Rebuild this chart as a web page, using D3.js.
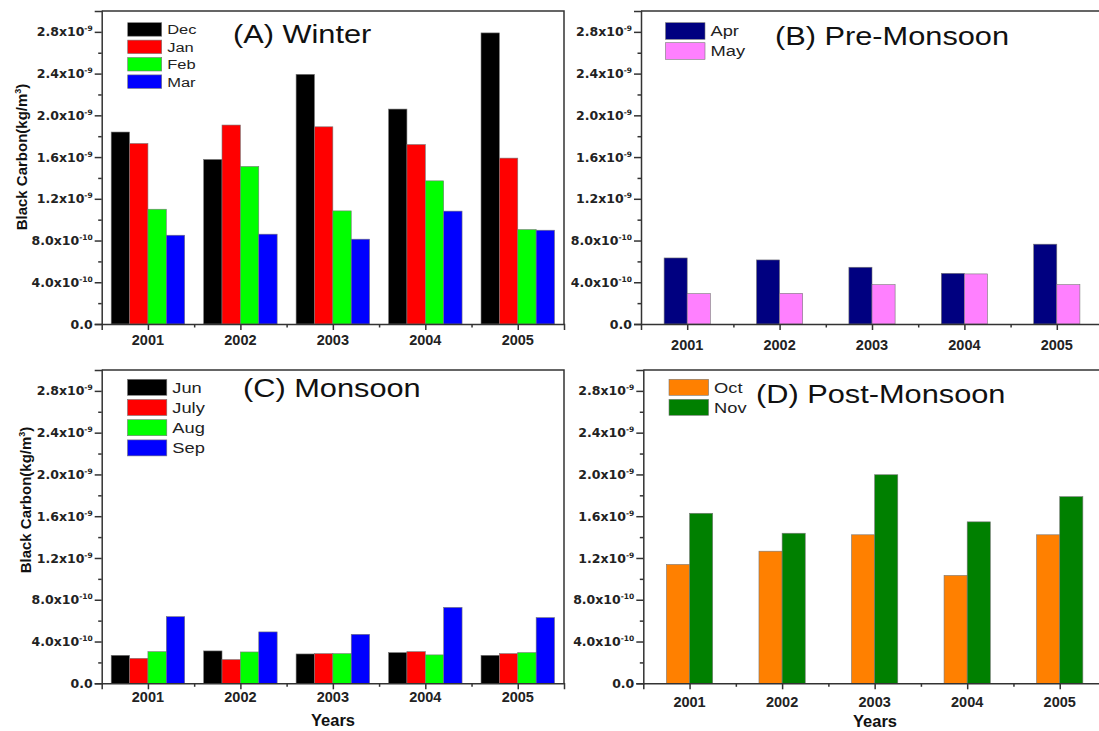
<!DOCTYPE html>
<html>
<head>
<meta charset="utf-8">
<script src="https://cdn.jsdelivr.net/npm/d3@7"></script>
<style>
  body { margin: 0; background: #fff; }
  svg { display: block; }
</style>
</head>
<body>
<svg id="chart" width="1099" height="731"></svg>
<script>
'use strict';

// Data (kg/m^3)
const years = [2001, 2002, 2003, 2004, 2005];
const yTicks = [0, 0.4e-9, 0.8e-9, 1.2e-9, 1.6e-9, 2.0e-9, 2.4e-9, 2.8e-9];
const yMinorTicks = [0.2e-9, 0.6e-9, 1.0e-9, 1.4e-9, 1.8e-9, 2.2e-9, 2.6e-9];

// (A) Winter
const winterMonths = ['Dec', 'Jan', 'Feb', 'Mar'];
const decVals = [1.84e-9, 1.577e-9, 2.393e-9, 2.06e-9, 2.79e-9];
const janVals = [1.73e-9, 1.907e-9, 1.89e-9, 1.72e-9, 1.59e-9];
const febVals = [1.10e-9, 1.51e-9, 1.084e-9, 1.372e-9, 0.905e-9];
const marVals = [0.851e-9, 0.861e-9, 0.813e-9, 1.082e-9, 0.899e-9];

// (B) Pre-Monsoon
const preMonths = ['Apr', 'May'];
const aprVals = [0.633e-9, 0.614e-9, 0.544e-9, 0.486e-9, 0.765e-9];
const mayVals = [0.291e-9, 0.294e-9, 0.377e-9, 0.48e-9, 0.377e-9];

// (C) Monsoon
const monsoonMonths = ['Jun', 'July', 'Aug', 'Sep'];
const junVals = [0.268e-9, 0.31e-9, 0.281e-9, 0.294e-9, 0.268e-9];
const julVals = [0.239e-9, 0.227e-9, 0.284e-9, 0.303e-9, 0.284e-9];
const augVals = [0.303e-9, 0.30e-9, 0.284e-9, 0.272e-9, 0.294e-9];
const sepVals = [0.638e-9, 0.492e-9, 0.469e-9, 0.727e-9, 0.629e-9];

// (D) Post-Monsoon
const postMonths = ['Oct', 'Nov'];
const octVals = [1.138e-9, 1.265e-9, 1.422e-9, 1.033e-9, 1.422e-9];
const novVals = [1.628e-9, 1.437e-9, 1.997e-9, 1.546e-9, 1.787e-9];

const panels = [
  { title: '(A) Winter', titlePos: [233, 43], months: winterMonths,
    series: [decVals, janVals, febVals, marVals],
    colors: ['#000000', '#ff0000', '#00ff00', '#0000ff'],
    left: 101.7, right: 564, top: 11, bottom: 324, groupFrac: 0.795,
    xLabelGap: 21, yTitle: [27, 157], xTitle: null,
    legend: { x: 127.7, y: 22.7, w: 34, h: 13.5, step: 17.4, font: 13.5 } },
  { title: '(B) Pre-Monsoon', titlePos: [775, 45], months: preMonths,
    series: [aprVals, mayVals],
    colors: ['#000080', '#ff80ff'],
    left: 641, right: 1103, top: 11, bottom: 324, groupFrac: 0.5,
    xLabelGap: 26, yTitle: null, xTitle: null,
    legend: { x: 665.5, y: 22.7, w: 39.5, h: 16.6, step: 20, font: 15 } },
  { title: '(C) Monsoon', titlePos: [243, 397], months: monsoonMonths,
    series: [junVals, julVals, augVals, sepVals],
    colors: ['#000000', '#ff0000', '#00ff00', '#0000ff'],
    left: 101.7, right: 564, top: 370, bottom: 683.3, groupFrac: 0.795,
    xLabelGap: 18.5, yTitle: [31, 500], xTitle: [333, 726],
    legend: { x: 127.5, y: 379.3, w: 39.3, h: 16, step: 20.2, font: 15 } },
  { title: '(D) Post-Monsoon', titlePos: [756, 402.7], months: postMonths,
    series: [octVals, novVals],
    colors: ['#ff8000', '#008000'],
    left: 643.3, right: 1106, top: 370, bottom: 683.3, groupFrac: 0.5,
    xLabelGap: 24, yTitle: null, xTitle: [875, 726.5],
    legend: { x: 669, y: 379.3, w: 39.6, h: 16, step: 20, font: 15 } }
];

const svg = d3.select('#chart');
const axisColor = '#333';

function yLabelParts(v) {
  if (v === 0) return ['0.0', null];
  if (v < 1e-9) return [(v / 1e-10).toFixed(1) + 'x10', '-10'];
  return [(v / 1e-9).toFixed(1) + 'x10', '-9'];
}

panels.forEach(p => {
  const g = svg.append('g');
  const x = d3.scaleLinear().domain([2000.5, 2005.5]).range([p.left, p.right]);
  const y = d3.scaleLinear().domain([0, 3e-9]).range([p.bottom, p.top]);
  const step = x(2002) - x(2001);
  const groupW = step * p.groupFrac;
  const barW = groupW / p.series.length;

  // bars
  p.series.forEach((vals, i) => {
    g.selectAll(null)
      .data(vals)
      .enter()
      .append('rect')
      .attr('x', (d, j) => x(years[j]) - groupW / 2 + i * barW)
      .attr('y', d => y(d))
      .attr('width', barW)
      .attr('height', d => y(0) - y(d))
      .attr('fill', p.colors[i])
      .attr('stroke', '#777')
      .attr('stroke-width', 0.6);
  });

  // top / right frame
  g.append('path')
    .attr('d', `M${p.left},${p.top}H${p.right}V${p.bottom}`)
    .attr('fill', 'none')
    .attr('stroke', axisColor)
    .attr('stroke-width', 1.5);

  // y axis
  g.append('g').attr('transform', `translate(${p.left},0)`)
    .call(d3.axisLeft(y).tickValues(yTicks).tickSize(7).tickFormat(''));
  g.append('g').attr('transform', `translate(${p.left},0)`)
    .call(d3.axisLeft(y).tickValues(yMinorTicks).tickSize(3.5).tickFormat(''))
    .select('.domain').remove();

  // x axis
  g.append('g').attr('transform', `translate(0,${p.bottom})`)
    .call(d3.axisBottom(x).tickValues(years).tickSize(6).tickFormat(''));
  g.append('g').attr('transform', `translate(0,${p.bottom})`)
    .call(d3.axisBottom(x).tickValues([2001.5, 2002.5, 2003.5, 2004.5]).tickSize(3.5).tickFormat(''))
    .select('.domain').remove();

  g.selectAll('.domain, .tick line')
    .attr('stroke', axisColor)
    .attr('stroke-width', 1.5);

  // y tick labels with superscript exponent
  yTicks.forEach(v => {
    const [main, sup] = yLabelParts(v);
    const t = g.append('text')
      .attr('x', p.left - 9)
      .attr('y', y(v) + 4.6)
      .attr('text-anchor', 'end')
      .attr('font-family', 'DejaVu Sans')
      .attr('font-weight', 'bold')
      .attr('font-size', 12.5)
      .attr('fill', '#222')
      .text(main);
    if (sup) {
      t.append('tspan')
        .attr('dy', -5)
        .attr('font-size', 7.5)
        .text(sup);
    }
  });

  // x tick labels
  g.selectAll(null)
    .data(years)
    .enter()
    .append('text')
    .attr('x', d => x(d))
    .attr('y', p.bottom + p.xLabelGap)
    .attr('text-anchor', 'middle')
    .attr('font-family', 'Liberation Sans, Arial, sans-serif')
    .attr('font-weight', 'bold')
    .attr('font-size', 14.5)
    .attr('fill', '#222')
    .text(d => d);

  // panel title
  g.append('text')
    .attr('transform', `translate(${p.titlePos[0]},${p.titlePos[1]}) scale(1.23,1)`)
    .attr('font-family', 'Liberation Sans, Arial, sans-serif')
    .attr('font-size', 25)
    .attr('fill', '#111')
    .text(p.title);

  // legend
  const L = p.legend;
  p.months.forEach((m, i) => {
    const yy = L.y + i * L.step;
    g.append('rect')
      .attr('x', L.x).attr('y', yy)
      .attr('width', L.w).attr('height', L.h)
      .attr('fill', p.colors[i])
      .attr('stroke', '#777')
      .attr('stroke-width', 0.6);
    g.append('text')
      .attr('transform', `translate(${L.x + L.w + 5.5},${yy + L.h / 2 + L.font * 0.36}) scale(1.22,1)`)
      .attr('font-family', 'Liberation Sans, Arial, sans-serif')
      .attr('font-size', L.font)
      .attr('fill', '#222')
      .text(m);
  });

  // axis titles
  if (p.yTitle) {
    const t = g.append('text')
      .attr('transform', `translate(${p.yTitle[0]},${p.yTitle[1]}) rotate(-90)`)
      .attr('text-anchor', 'middle')
      .attr('font-family', 'Liberation Sans, Arial, sans-serif')
      .attr('font-weight', 'bold')
      .attr('font-size', 15)
      .attr('fill', '#111')
      .text('Black Carbon(kg/m');
    t.append('tspan').attr('dy', -6).attr('font-size', 9).text('3');
    t.append('tspan').attr('dy', 6).text(')');
  }
  if (p.xTitle) {
    g.append('text')
      .attr('x', p.xTitle[0])
      .attr('y', p.xTitle[1])
      .attr('text-anchor', 'middle')
      .attr('font-family', 'Liberation Sans, Arial, sans-serif')
      .attr('font-weight', 'bold')
      .attr('font-size', 16.5)
      .attr('fill', '#111')
      .text('Years');
  }
});
</script>
</body>
</html>
